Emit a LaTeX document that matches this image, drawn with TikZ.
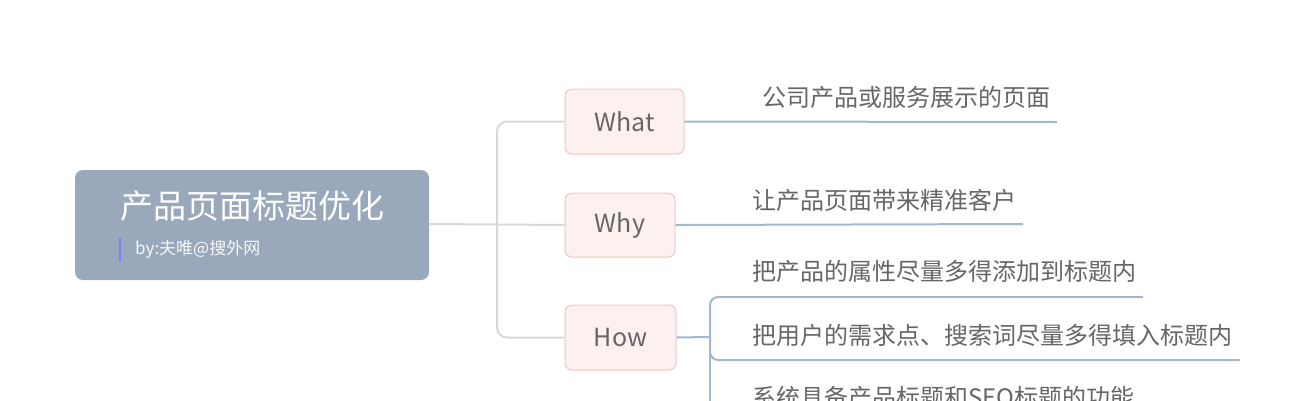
\documentclass[tikz,border=0pt]{standalone}
\usepackage{fontspec}
\setmainfont{Noto Sans CJK SC}
\begin{document}
\begin{tikzpicture}[x=1pt,y=-1pt]
\definecolor{rootc}{HTML}{9AA8BC}
\definecolor{pinkf}{HTML}{FDF1F0}
\definecolor{pinkd}{HTML}{EBC8C8}
\definecolor{graylk}{HTML}{D8D8D8}
\definecolor{bluelk}{HTML}{A3B8CC}
\definecolor{txt}{HTML}{666666}
\tikzset{
 sub/.style={draw=pinkd,fill=pinkf,rounded corners=7pt,line width=1pt,inner sep=0pt,text=txt,font=\fontsize{25}{28}\selectfont},
 leaf/.style={anchor=base west,text=txt,inner sep=0pt,font=\fontsize{24}{28}\selectfont},
 glink/.style={draw=graylk,line width=2pt,rounded corners=10pt},
 blink/.style={draw=bluelk,line width=2pt,rounded corners=8pt}
}
\useasboundingbox (0,0) rectangle (1315,400);
\node[fill=rootc,rounded corners=8pt,minimum width=354pt,minimum height=110pt,inner sep=0pt] (root) at (252,225) {};
\node[text=white,font=\fontsize{33}{38}\selectfont] (title) at (252,206) {产品页面标题优化};
\draw[color=blue!50!white,line width=2pt] (120,238) -- (120,262);
\node[anchor=west,text=white!90!rootc,font=\fontsize{17}{20}\selectfont,inner sep=0pt] (sub) at (135,249) {by:夫唯@搜外网};
\node[sub,minimum width=119pt,minimum height=65pt] (what) at (624.5,121.5) {What};
\node[sub,minimum width=110pt,minimum height=64pt] (why) at (620,225) {Why};
\node[sub,minimum width=111pt,minimum height=65pt] (how) at (620.5,337.5) {How};
\coordinate (rr) at (429,224);
\coordinate (gj) at (497,224);
\draw[glink] (rr) -- (why.west);
\draw[glink] (gj) |- (what.west);
\draw[glink] (gj) |- (how.west);
\coordinate (bj) at (710,337);
\coordinate (we) at (1057,122);
\coordinate (ye) at (1023,224);
\coordinate (h1) at (1143,297);
\coordinate (h2) at (1240,360);
\draw[blink] (what.east) -- (we);
\draw[blink] (why.east) -- (ye);
\draw[blink] (how.east) -- (bj);
\draw[blink] (bj) |- (h1);
\draw[blink] (bj) |- (h2);
\draw[blink] (bj) -- (710,420);
\node[leaf] (t1) at (762,106) {公司产品或服务展示的页面};
\node[leaf] (t2) at (752,209) {让产品页面带来精准客户};
\node[leaf] (t3) at (752,280) {把产品的属性尽量多得添加到标题内};
\node[leaf] (t4) at (752,344) {把用户的需求点、搜索词尽量多得填入标题内};
\node[leaf] (t5) at (752,406) {系统具备产品标题和SEO标题的功能};
\end{tikzpicture}
\end{document}
